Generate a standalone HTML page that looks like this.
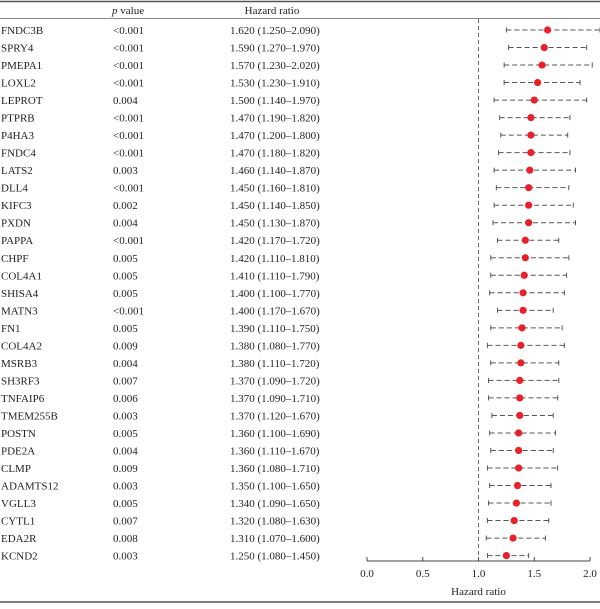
<!DOCTYPE html>
<html><head><meta charset="utf-8"><style>
body{margin:0;background:#fff;}
svg text{font-family:"Liberation Serif",serif;font-size:11px;fill:#222;}
</style></head><body>
<svg id="c" width="600" height="604" viewBox="0 0 600 604" xmlns="http://www.w3.org/2000/svg"></svg>
<script>
const genes=["FNDC3B","SPRY4","PMEPA1","LOXL2","LEPROT","PTPRB","P4HA3","FNDC4","LATS2","DLL4","KIFC3","PXDN","PAPPA","CHPF","COL4A1","SHISA4","MATN3","FN1","COL4A2","MSRB3","SH3RF3","TNFAIP6","TMEM255B","POSTN","PDE2A","CLMP","ADAMTS12","VGLL3","CYTL1","EDA2R","KCND2"];
const pvals=["<0.001","<0.001","<0.001","<0.001","0.004","<0.001","<0.001","<0.001","0.003","<0.001","0.002","0.004","<0.001","0.005","0.005","0.005","<0.001","0.005","0.009","0.004","0.007","0.006","0.003","0.005","0.004","0.009","0.003","0.005","0.007","0.008","0.003"];
const hr=[1.62,1.59,1.57,1.53,1.5,1.47,1.47,1.47,1.46,1.45,1.45,1.45,1.42,1.42,1.41,1.4,1.4,1.39,1.38,1.38,1.37,1.37,1.37,1.36,1.36,1.36,1.35,1.34,1.32,1.31,1.25];
const lo=[1.25,1.27,1.23,1.23,1.14,1.19,1.2,1.18,1.14,1.16,1.14,1.13,1.17,1.11,1.11,1.1,1.17,1.11,1.08,1.11,1.09,1.09,1.12,1.1,1.11,1.08,1.1,1.09,1.08,1.07,1.08];
const hi=[2.09,1.97,2.02,1.91,1.97,1.82,1.8,1.82,1.87,1.81,1.85,1.87,1.72,1.81,1.79,1.77,1.67,1.75,1.77,1.72,1.72,1.71,1.67,1.69,1.67,1.71,1.65,1.65,1.63,1.6,1.45];
const ticks=[0,0.5,1,1.5,2];
const tickLabels=["0.0","0.5","1.0","1.5","2.0"];
const svg=document.getElementById('c');const NS="http://www.w3.org/2000/svg";
const X=v=>367+v*111.5;
const Y=i=>30+i*17.52;
function el(t,a,txt){const e=document.createElementNS(NS,t);for(const k in a)e.setAttribute(k,a[k]);if(txt!==undefined)e.textContent=txt;svg.appendChild(e);return e;}
function fmt(v){return v.toFixed(3);}
let e;
e=el('line',{x1:0,x2:600,y1:1.5,y2:1.5,stroke:'#555','stroke-width':1.5});

e=el('line',{x1:0,x2:600,y1:18.5,y2:18.5,stroke:'#888','stroke-width':1});

e=el('line',{x1:0,x2:600,y1:602,y2:602,stroke:'#555','stroke-width':1.5});

e=el('text',{x:112,y:14});e.innerHTML='<tspan font-style="italic">p</tspan> value';

e=el('text',{x:272,y:14,'text-anchor':'middle'},'Hazard ratio');

e=el('line',{x1:X(1),x2:X(1),y1:19,y2:561,stroke:'#666','stroke-width':1,'stroke-dasharray':'4,3'});

for(let i=0;i<genes.length;i++){
 const y=Y(i);
 e=el('text',{x:1,y:y+4},genes[i]);
 
 e=el('text',{x:113,y:y+4},pvals[i]);
 
 e=el('text',{x:230,y:y+4},fmt(hr[i])+' ('+fmt(lo[i])+'\u2013'+fmt(hi[i])+')');
 
 e=el('line',{x1:X(lo[i]),x2:X(hi[i]),y1:y,y2:y,stroke:'#555','stroke-width':1,'stroke-dasharray':'5,3'});
 
 e=el('line',{x1:X(lo[i]),x2:X(lo[i]),y1:y-2.5,y2:y+2.5,stroke:'#555','stroke-width':1});
 
 e=el('line',{x1:X(hi[i]),x2:X(hi[i]),y1:y-2.5,y2:y+2.5,stroke:'#555','stroke-width':1});
 
 e=el('circle',{cx:X(hr[i]),cy:y,r:3.6,fill:'#e8202a'});
 
}
e=el('line',{x1:X(0),x2:X(2),y1:561,y2:561,stroke:'#444','stroke-width':1});

for(let i=0;i<ticks.length;i++){
 e=el('line',{x1:X(ticks[i]),x2:X(ticks[i]),y1:557,y2:561,stroke:'#444','stroke-width':1});
 
 e=el('text',{x:X(ticks[i]),y:577,'text-anchor':'middle'},tickLabels[i]);
 
}
e=el('text',{x:X(1),y:595,'text-anchor':'middle'},'Hazard ratio');

</script>
</body></html>
